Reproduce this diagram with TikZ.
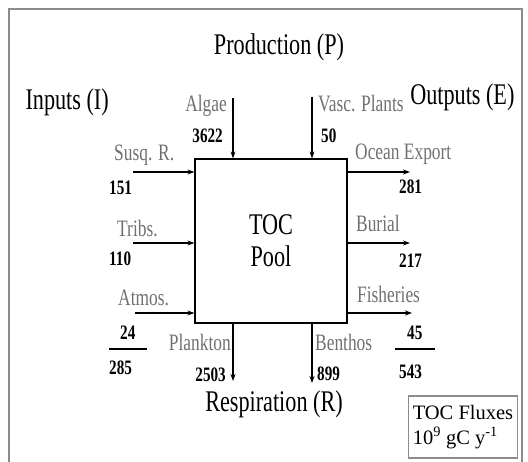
\documentclass[tikz,border=0pt]{standalone}
\usepackage{fontspec}
\setmainfont{Liberation Serif}[FakeStretch=0.74]
\newfontfamily\unitfont{Liberation Serif}
\usetikzlibrary{arrows.meta,positioning}
\definecolor{labelgray}{HTML}{707070}
\definecolor{framegray}{HTML}{8C8C8C}

\begin{document}
\begin{tikzpicture}[x=1pt,y=-1pt,
  flux/.style={-{Stealth[length=7pt,width=5pt]},line width=1.1pt},
  big/.style={font=\fontsize{30}{32}\selectfont},
  lab/.style={font=\fontsize{23.5}{26}\selectfont,labelgray,inner sep=0pt},
  num/.style={font=\fontsize{20.5}{23}\selectfont\bfseries,inner sep=0pt}]
  \useasboundingbox (0,0) rectangle (528,462);

  % Frame
  \draw[framegray,line width=1.3pt] (9,462) -- (9,9) -- (522,9) -- (522,462);

  % Headings
  \node[big] (prod) at (279,47) {Production (P)};
  \node[big,anchor=west] (inputs) at (22,102) {Inputs (I)};
  \node[big,anchor=east] (outputs) at (518,97) {Outputs (E)};
  \node[big] (resp) at (274,404) {Respiration (R)};

  % Pool
  \node[draw,line width=1.2pt,minimum width=152pt,minimum height=164pt,
    big,align=center] (pool) at (271,241) {TOC\\Pool};

  % Inputs
  \coordinate (susqS) at (133,172);
  \coordinate (tribsS) at (133,243);
  \coordinate (atmosS) at (135,313);
  \draw[flux] (susqS) -- (susqS -| pool.west);
  \draw[flux] (tribsS) -- (tribsS -| pool.west);
  \draw[flux] (atmosS) -- (atmosS -| pool.west);
  \node[lab,anchor=base west] (susqL) at (114,161) {Susq. R.};
  \node[num,anchor=base west] (susqN) at (109,195) {151};
  \node[lab,anchor=base west] (tribsL) at (117,237) {Tribs.};
  \node[num,anchor=base west] (tribsN) at (109,266) {110};
  \node[lab,anchor=base west] (atmosL) at (118,306) {Atmos.};
  \node[num,anchor=base west] (atmosN) at (120,340) {24};
  \draw[line width=1.1pt] (109,349) -- (147,349);
  \node[num,anchor=base west] (inSum) at (109,375) {285};

  % Production
  \coordinate (algaeS) at (233,98);
  \coordinate (vascS) at (312,97);
  \draw[flux] (algaeS) -- (algaeS |- pool.north);
  \draw[flux] (vascS) -- (vascS |- pool.north);
  \node[lab,anchor=base east] (algaeL) at (227,112) {Algae};
  \node[num,anchor=base east] (algaeN) at (223,143) {3622};
  \node[lab,anchor=base west] (vascL) at (318,112) {Vasc. Plants};
  \node[num,anchor=base west] (vascN) at (321,143) {50};

  % Outputs
  \coordinate (oceanE) at (410,172);
  \coordinate (burialE) at (410,243);
  \coordinate (fishE) at (412,313);
  \draw[flux] (oceanE -| pool.east) -- (oceanE);
  \draw[flux] (burialE -| pool.east) -- (burialE);
  \draw[flux] (fishE -| pool.east) -- (fishE);
  \node[lab,anchor=base west] (oceanL) at (355,160) {Ocean Export};
  \node[num,anchor=base west] (oceanN) at (399,194) {281};
  \node[lab,anchor=base west] (burialL) at (356,232) {Burial};
  \node[num,anchor=base west] (burialN) at (399,268) {217};
  \node[lab,anchor=base west] (fishL) at (357,303) {Fisheries};
  \node[num,anchor=base west] (fishN) at (407,340) {45};
  \draw[line width=1.1pt] (395,349) -- (435,349);
  \node[num,anchor=base west] (outSum) at (399,379) {543};

  % Respiration
  \coordinate (planktonE) at (233,381);
  \coordinate (benthosE) at (312,383);
  \draw[flux] (planktonE |- pool.south) -- (planktonE);
  \draw[flux] (benthosE |- pool.south) -- (benthosE);
  \node[lab,anchor=base east] (planktonL) at (231,351) {Plankton};
  \node[num,anchor=base east] (planktonN) at (226,382) {2503};
  \node[lab,anchor=base west] (benthosL) at (315,351) {Benthos};
  \node[num,anchor=base west] (benthosN) at (317,381) {899};

  % Units
  \node[draw=framegray,line width=1.1pt,minimum width=109pt,minimum height=62pt,
    font=\unitfont\fontsize{20.5}{25}\selectfont,align=left,inner sep=3pt] (units) at (463,427)
    {TOC Fluxes\\10\textsuperscript{9} gC y\textsuperscript{-1}};
\end{tikzpicture}
\end{document}
